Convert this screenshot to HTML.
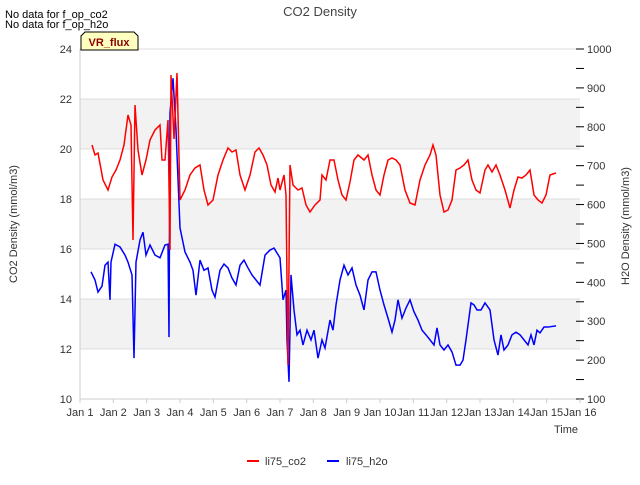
<!DOCTYPE html>
<html><head><meta charset="utf-8"><style>
body{margin:0;background:#fff;font-family:"Liberation Sans",sans-serif;}
svg text{font-family:"Liberation Sans",sans-serif;}
</style></head><body>
<svg id="chart" width="640" height="480" xmlns="http://www.w3.org/2000/svg">
<g id="bands"></g><g id="grid"></g><g id="axes"></g><g id="series"></g>
<text x="320" y="16" font-size="13" fill="#444" text-anchor="middle">CO2 Density</text>
<text x="5" y="18" font-size="11" fill="#000">No data for f_op_co2</text>
<text x="5" y="28" font-size="11" fill="#000">No data for f_op_h2o</text>
<g>
<path d="M81,50 L81,36 L85,32 L134,32 L138,36 L138,50 Z" fill="#ffffc0" stroke="#000" stroke-width="1"/>
<text x="109" y="46" font-size="11" font-weight="bold" fill="#8b0000" text-anchor="middle">VR_flux</text>
</g>
<text transform="translate(17,224) rotate(-90)" font-size="11" fill="#333" text-anchor="middle">CO2 Density (mmol/m3)</text>
<text transform="translate(629,226) rotate(-90)" font-size="11" fill="#333" text-anchor="middle">H2O Density (mmol/m3)</text>
<text x="578" y="433" font-size="11" fill="#333" text-anchor="end">Time</text>
<g><line x1="247" y1="461" x2="259" y2="461" stroke="#f00" stroke-width="2"/><text x="265" y="465" font-size="11" fill="#333">li75_co2</text></g>
<g><line x1="327" y1="461" x2="339" y2="461" stroke="#00f" stroke-width="2"/><text x="346" y="465" font-size="11" fill="#333">li75_h2o</text></g>
</svg>
<script>
const xTickLabels=["Jan 1","Jan 2","Jan 3","Jan 4","Jan 5","Jan 6","Jan 7","Jan 8","Jan 9","Jan 10","Jan 11","Jan 12","Jan 13","Jan 14","Jan 15","Jan 16"];
const leftTicks=[10,12,14,16,18,20,22,24];
const rightTicks=[100,200,300,400,500,600,700,800,900,1000];
const co2Days=[0.36,0.45,0.54,0.69,0.84,0.96,1.08,1.2,1.32,1.44,1.53,1.59,1.65,1.74,1.86,1.98,2.1,2.25,2.4,2.46,2.55,2.64,2.7,2.73,2.82,2.91,3.0,3.15,3.3,3.45,3.6,3.72,3.84,3.99,4.14,4.29,4.44,4.56,4.68,4.8,4.95,5.1,5.25,5.37,5.49,5.61,5.73,5.85,5.94,6.0,6.12,6.18,6.24,6.3,6.39,6.54,6.66,6.78,6.9,7.05,7.2,7.26,7.38,7.5,7.62,7.74,7.86,7.98,8.1,8.22,8.34,8.52,8.64,8.76,8.88,9.0,9.12,9.24,9.36,9.48,9.6,9.75,9.9,10.05,10.2,10.35,10.5,10.59,10.68,10.8,10.92,11.04,11.16,11.28,11.4,11.52,11.64,11.76,11.88,12.0,12.15,12.24,12.36,12.48,12.6,12.75,12.9,13.02,13.14,13.26,13.38,13.5,13.62,13.74,13.86,13.98,14.1,14.28];
const co2Vals=[20.16,19.76,19.84,18.76,18.36,18.88,19.16,19.56,20.16,21.36,20.96,16.36,21.76,19.96,18.96,19.56,20.36,20.76,20.96,19.56,19.56,21.16,15.96,22.96,20.4,23.04,17.96,18.36,18.96,19.24,19.36,18.36,17.76,17.96,18.96,19.56,20.04,19.88,19.96,18.96,18.36,18.96,19.88,20.04,19.76,19.36,18.56,18.28,18.84,18.36,18.96,18.16,11.36,19.36,18.56,18.36,18.44,17.76,17.48,17.76,17.96,18.96,18.76,19.56,19.56,18.76,18.16,17.96,18.68,19.56,19.76,19.56,19.76,18.96,18.36,18.16,18.96,19.56,19.64,19.56,19.36,18.36,17.84,17.76,18.76,19.36,19.76,20.16,19.76,18.16,17.48,17.56,17.96,19.16,19.24,19.36,19.56,18.76,18.36,18.24,19.16,19.36,19.08,19.36,18.96,18.36,17.64,18.36,18.88,18.84,18.96,19.16,18.16,17.96,17.84,18.16,18.96,19.04];
const h2oDays=[0.33,0.45,0.54,0.66,0.75,0.84,0.9,0.93,1.05,1.2,1.35,1.44,1.56,1.62,1.68,1.8,1.89,1.98,2.1,2.25,2.4,2.55,2.64,2.67,2.7,2.79,2.88,3.0,3.15,3.3,3.39,3.48,3.6,3.72,3.84,3.96,4.05,4.2,4.32,4.44,4.56,4.68,4.8,4.92,5.04,5.16,5.28,5.4,5.55,5.7,5.82,6.0,6.09,6.18,6.21,6.27,6.33,6.42,6.51,6.6,6.69,6.81,6.93,7.02,7.14,7.26,7.35,7.5,7.59,7.68,7.8,7.92,8.04,8.16,8.28,8.4,8.52,8.64,8.76,8.88,9.0,9.12,9.24,9.36,9.45,9.54,9.66,9.78,9.9,10.02,10.14,10.26,10.38,10.5,10.62,10.71,10.8,10.92,11.04,11.16,11.28,11.4,11.49,11.58,11.73,11.82,11.91,12.03,12.15,12.3,12.42,12.54,12.63,12.72,12.84,12.96,13.08,13.2,13.32,13.44,13.53,13.62,13.71,13.8,13.92,14.04,14.28];
const h2oVals=[427,406,375,390,444,452,355,452,498,491,470,452,419,205,452,509,529,470,496,470,463,496,498,259,835,925,792,540,478,452,431,367,457,431,437,380,362,431,447,437,411,393,444,457,437,419,406,393,470,483,488,463,355,380,252,144,419,329,265,277,239,277,252,277,205,252,231,303,277,342,406,444,419,437,393,367,329,406,427,427,380,342,308,272,303,355,308,334,355,324,303,277,265,252,239,283,239,226,239,221,187,187,200,252,347,342,329,329,347,329,252,213,265,226,239,265,272,265,252,239,265,239,277,270,285,285,288];
const NS="http://www.w3.org/2000/svg";
const X0=80,X1=580,Y0=49,Y1=399;
const xs=d=>X0+(X1-X0)*d/15;
const yl=v=>Y1-(v-10)*(Y1-Y0)/14;
const yr=v=>Y1-(v-100)*(Y1-Y0)/900;
function mk(tag,attrs,parent){const e=document.createElementNS(NS,tag);for(const k in attrs)e.setAttribute(k,attrs[k]);document.getElementById(parent).appendChild(e);return e;}
// bands
[[12,14],[16,18],[20,22]].forEach(b=>{const r=mk('rect',{x:X0,y:yl(b[1]),width:X1-X0,height:yl(b[0])-yl(b[1]),fill:'#f2f2f2'},'bands');

});
leftTicks.forEach(v=>{const l=mk('line',{x1:X0,x2:X1,y1:yl(v),y2:yl(v),stroke:'#ddd','stroke-width':1},'grid');


const t=mk('text',{x:72,y:yl(v)+4,'font-size':11,fill:'#333','text-anchor':'end'},'axes');t.textContent=v;

});
mk('line',{x1:X0,x2:X0,y1:Y0,y2:Y1,stroke:'#ccc'},'axes');
mk('line',{x1:X0,x2:X1,y1:Y1,y2:Y1,stroke:'#ccc'},'axes');
rightTicks.forEach(v=>{mk('line',{x1:X1-4,x2:X1+4,y1:yr(v),y2:yr(v),stroke:'#000'},'axes');
if(v<1000)mk('line',{x1:X1-4,x2:X1+4,y1:yr(v+50),y2:yr(v+50),stroke:'#000'},'axes');
const t=mk('text',{x:587,y:yr(v)+4,'font-size':11,fill:'#333'},'axes');t.textContent=v;

});
xTickLabels.forEach((s,i)=>{mk('line',{x1:xs(i),x2:xs(i),y1:Y1,y2:Y1+4,stroke:'#ccc'},'axes');
const t=mk('text',{x:xs(i),y:416,'font-size':11,fill:'#333','text-anchor':'middle'},'axes');t.textContent=s;

});
const h=mk('polyline',{points:h2oDays.map((d,i)=>xs(d)+','+yr(h2oVals[i])).join(' '),fill:'none',stroke:'#00f','stroke-width':1.5},'series');


const c=mk('polyline',{points:co2Days.map((d,i)=>xs(d)+','+yl(co2Vals[i])).join(' '),fill:'none',stroke:'#f00','stroke-width':1.5},'series');


</script>
</body></html>
